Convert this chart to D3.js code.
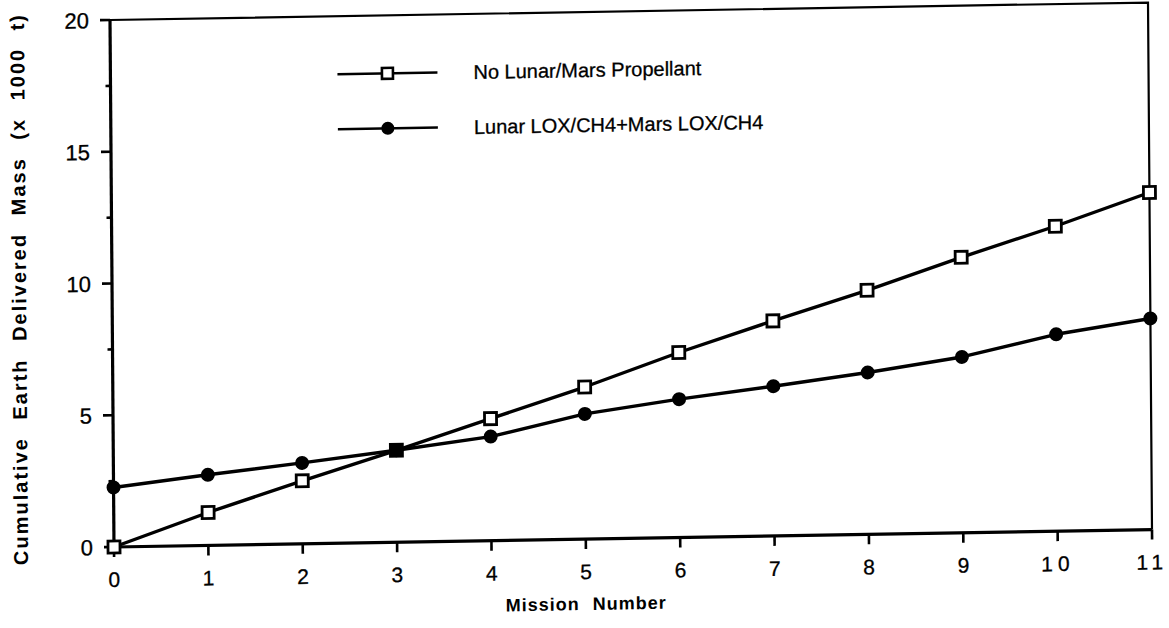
<!DOCTYPE html>
<html>
<head>
<meta charset="utf-8">
<script src="https://cdn.jsdelivr.net/npm/d3@7/dist/d3.min.js"></script>
<style>
  html, body { margin: 0; padding: 0; background: #fff; }
  svg { display: block; }
  text { font-family: "Liberation Sans", Arial, Helvetica, sans-serif; fill: #000; }
</style>
</head>
<body>
<svg id="chart" width="1169" height="628"></svg>
<script>
// Mission number on the x axis
const missions = [0, 1, 2, 3, 4, 5, 6, 7, 8, 9, 10, 11];
// Cumulative Earth delivered mass, thousands of tonnes
const noPropellant = [0.0, 1.25, 2.39, 3.49, 4.63, 5.77, 7.02, 8.16, 9.26, 10.45, 11.57, 12.79];
const lunarMarsLoxCh4 = [2.26, 2.68, 3.07, 3.49, 3.95, 4.75, 5.25, 5.68, 6.14, 6.67, 7.47, 8.01];
const seriesNames = ["No Lunar/Mars Propellant", "Lunar LOX/CH4+Mars LOX/CH4"];
const yMajorTicks = [0, 5, 10, 15, 20];
const yMinorTicks = [2.5, 7.5, 12.5, 17.5];
const xTicks = [0, 1, 2, 3, 4, 5, 6, 7, 8, 9, 10, 11];

const W = 1038, H = 527;
const svg = d3.select("#chart");

// The whole plot sits on a slightly skewed frame
const g = svg.append("g")
  .attr("transform", "matrix(1,-0.01683,0.00759,1,110,20)");

const x = d3.scaleLinear().domain([0, 11]).range([0, W]);
const y = d3.scaleLinear().domain([0, 20]).range([H, 0]);

// Frame: top and right edges
g.append("path")
  .attr("d", `M0,0 H${W} V${H}`)
  .attr("fill", "none").attr("stroke", "#000").attr("stroke-width", 2.2);

// Left axis with major and minor ticks
const yAxis = g.append("g");
yAxis.append("line").attr("x1", 0).attr("x2", 0).attr("y1", 0).attr("y2", H)
  .attr("stroke", "#000").attr("stroke-width", 3.2);
yAxis.selectAll(".ymaj").data(yMajorTicks).join("line")
  .attr("x1", -10).attr("x2", 0)
  .attr("y1", d => y(d)).attr("y2", d => y(d))
  .attr("stroke", "#000").attr("stroke-width", 2.6);
yAxis.selectAll(".ymin").data(yMinorTicks).join("line")
  .attr("x1", -5).attr("x2", 0)
  .attr("y1", d => y(d)).attr("y2", d => y(d))
  .attr("stroke", "#000").attr("stroke-width", 2.6);
yAxis.selectAll(".ylab").data(yMajorTicks).join("text")
  .attr("x", -21).attr("y", d => y(d) + 8)
  .attr("text-anchor", "end")
  .attr("font-size", 22)
  .attr("stroke", "#000").attr("stroke-width", 0.3)
  .text(d => d);

// Bottom axis
const xAxis = g.append("g");
xAxis.append("line").attr("x1", 0).attr("x2", W).attr("y1", H).attr("y2", H)
  .attr("stroke", "#000").attr("stroke-width", 3.2);
xAxis.selectAll(".xt").data(xTicks).join("line")
  .attr("x1", d => x(d)).attr("x2", d => x(d))
  .attr("y1", H).attr("y2", H + 10)
  .attr("stroke", "#000").attr("stroke-width", 2.6);
xAxis.selectAll(".xlab").data(xTicks).join("text")
  .attr("x", d => x(d)).attr("y", H + 40)
  .attr("text-anchor", "middle")
  .attr("font-size", 21)
  .attr("stroke", "#000").attr("stroke-width", 0.3)
  .attr("letter-spacing", d => d >= 10 ? 5 : 0)
  .text(d => d);

// Axis titles
g.append("text")
  .attr("x", x(5)).attr("y", H + 71)
  .attr("text-anchor", "middle")
  .attr("font-size", 18).attr("font-weight", "bold")
  .attr("letter-spacing", 1).attr("word-spacing", 7)
  .text("Mission Number");

g.append("text")
  .attr("transform", `translate(-86,${H / 2 + 4}) rotate(-90)`)
  .attr("text-anchor", "middle")
  .attr("font-size", 20).attr("font-weight", "bold")
  .attr("letter-spacing", 2).attr("word-spacing", 10)
  .text("Cumulative Earth Delivered Mass (x 1000 t)");

// Series lines
const line = d3.line().x((d, i) => x(missions[i])).y(d => y(d));
g.append("path").datum(noPropellant)
  .attr("d", line).attr("fill", "none")
  .attr("stroke", "#000").attr("stroke-width", 3.4).attr("stroke-linejoin", "round");
g.append("path").datum(lunarMarsLoxCh4)
  .attr("d", line).attr("fill", "none")
  .attr("stroke", "#000").attr("stroke-width", 3.4).attr("stroke-linejoin", "round");

// Markers: filled circles, then open squares
g.selectAll(".dot").data(lunarMarsLoxCh4).join("circle")
  .attr("cx", (d, i) => x(missions[i])).attr("cy", d => y(d))
  .attr("r", 7).attr("fill", "#000");
const sq = 12;
g.selectAll(".sq").data(noPropellant).join("rect")
  .attr("x", (d, i) => x(missions[i]) - sq / 2).attr("y", d => y(d) - sq / 2)
  .attr("width", sq).attr("height", sq)
  .attr("fill", (d, i) => noPropellant[i] === lunarMarsLoxCh4[i] ? "#000" : "#fff")
  .attr("stroke", "#000").attr("stroke-width", 2.8);

// Legend
const legend = g.append("g").attr("transform", "translate(227,58)");
seriesNames.forEach((name, i) => {
  const row = legend.append("g").attr("transform", `translate(0,${i * 55})`);
  row.append("line").attr("x1", 0).attr("x2", 100).attr("y1", 0).attr("y2", 0)
    .attr("stroke", "#000").attr("stroke-width", 2.6);
  if (i === 0) {
    row.append("rect").attr("x", 50 - 5.5).attr("y", -5.5).attr("width", 11).attr("height", 11)
      .attr("fill", "#fff").attr("stroke", "#000").attr("stroke-width", 2.6);
  } else {
    row.append("circle").attr("cx", 50).attr("cy", 0).attr("r", 6.5).attr("fill", "#000");
  }
  row.append("text").attr("x", 136).attr("y", 7)
    .attr("font-size", 20)
    .attr("stroke", "#000").attr("stroke-width", 0.3)
    .text(name);
});
</script>
</body>
</html>
